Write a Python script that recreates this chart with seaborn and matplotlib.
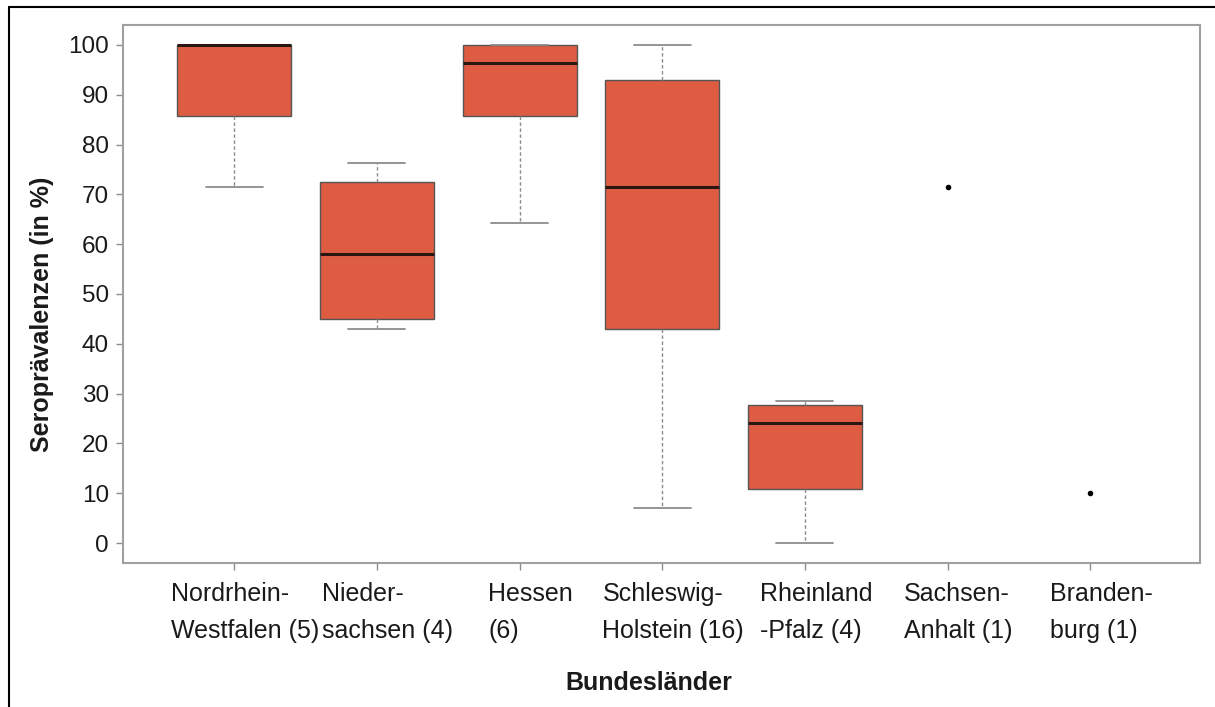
import numpy as np
import pandas as pd
import matplotlib
matplotlib.use("Agg")
import matplotlib.pyplot as plt
import matplotlib.transforms as mtransforms
from matplotlib.lines import Line2D
import seaborn as sns

# Federal states (number of herds in brackets)
states = [
    "Nordrhein-\nWestfalen (5)",
    "Nieder-\nsachsen (4)",
    "Hessen\n(6)",
    "Schleswig-\nHolstein (16)",
    "Rheinland\n-Pfalz (4)",
    "Sachsen-\nAnhalt (1)",
    "Branden-\nburg (1)",
]

# Five-number summaries of the seroprevalence (%) for states with several herds
box_states = states[:5]
whisker_low = [71.4, 42.9, 64.3, 7.1, 0.0]
quartile_1 = [85.7, 45.0, 85.7, 43.0, 10.8]
median = [100.0, 58.0, 96.4, 71.4, 24.1]
quartile_3 = [100.0, 72.5, 100.0, 93.0, 27.7]
whisker_high = [100.0, 76.2, 100.0, 100.0, 28.6]

# States with a single herd
single_states = states[5:]
single_values = [71.4, 10.0]

box_rows = []
for i, s in enumerate(box_states):
    for v in (whisker_low[i], quartile_1[i], median[i], quartile_3[i], whisker_high[i]):
        box_rows.append({"state": s, "value": v})
df_box = pd.DataFrame(box_rows)
df_single = pd.DataFrame({"state": single_states, "value": single_values})

sns.set_style("white")
plt.rcParams["font.family"] = ["Liberation Sans", "DejaVu Sans"]

fig = plt.figure(figsize=(12.15, 7.07), dpi=100)
ax = fig.add_axes([123 / 1215, 1 - 563 / 707, (1200 - 123) / 1215, (563 - 25) / 707])

box_color = "#DD5C42"
grey = "#8c8c8c"
sns.boxplot(
    data=df_box, x="state", y="value", order=states, ax=ax,
    color=box_color, saturation=1, width=0.8, whis=1.5, showfliers=False,
    linewidth=1.0, linecolor="#555555",
    medianprops=dict(color="#2a1714", linewidth=2.2),
    whiskerprops=dict(color=grey, linestyle=(0, (2.5, 1.8)), linewidth=1.0),
    capprops=dict(color=grey, linewidth=1.3),
)
sns.stripplot(
    data=df_single, x="state", y="value", order=states, ax=ax,
    jitter=False, color="black", size=4, linewidth=0,
)

ax.set_xlim(-0.78, 6.77)
ax.set_ylim(-4.0, 104.0)
ax.set_yticks(np.arange(0, 101, 10))

for sp in ax.spines.values():
    sp.set_visible(True)
    sp.set_color("#a0a0a0")
    sp.set_linewidth(1.5)

ax.tick_params(axis="both", which="major", length=5, width=1.0, color=grey,
               labelcolor="#1a1a1a", left=True, bottom=True)
ax.tick_params(axis="y", labelsize=17.5, pad=5)
ax.tick_params(axis="x", labelsize=18, pad=9)

offset = mtransforms.ScaledTranslation(11 / 100, 0, fig.dpi_scale_trans)
for lab in ax.get_xticklabels():
    lab.set_multialignment("left")
    lab.set_linespacing(1.65)
    lab.set_transform(lab.get_transform() + offset)

ax.set_xlabel("Bundesländer", fontsize=18, fontweight="bold", color="#1a1a1a")
ax.set_ylabel("Seroprävalenzen (in %)", fontsize=18, fontweight="bold", color="#1a1a1a")
ax.xaxis.set_label_coords(0.488, -0.2)
ax.yaxis.set_label_coords(-0.064, 0.463)

# Frame lines around the figure
fig.add_artist(Line2D([9 / 1215, 9 / 1215], [0, 1 - 7 / 707], transform=fig.transFigure,
                      color="black", linewidth=1.5))
fig.add_artist(Line2D([9 / 1215, 1], [1 - 7 / 707, 1 - 7 / 707], transform=fig.transFigure,
                      color="black", linewidth=1.5))

fig.savefig("out.png", dpi=100, facecolor="white")
